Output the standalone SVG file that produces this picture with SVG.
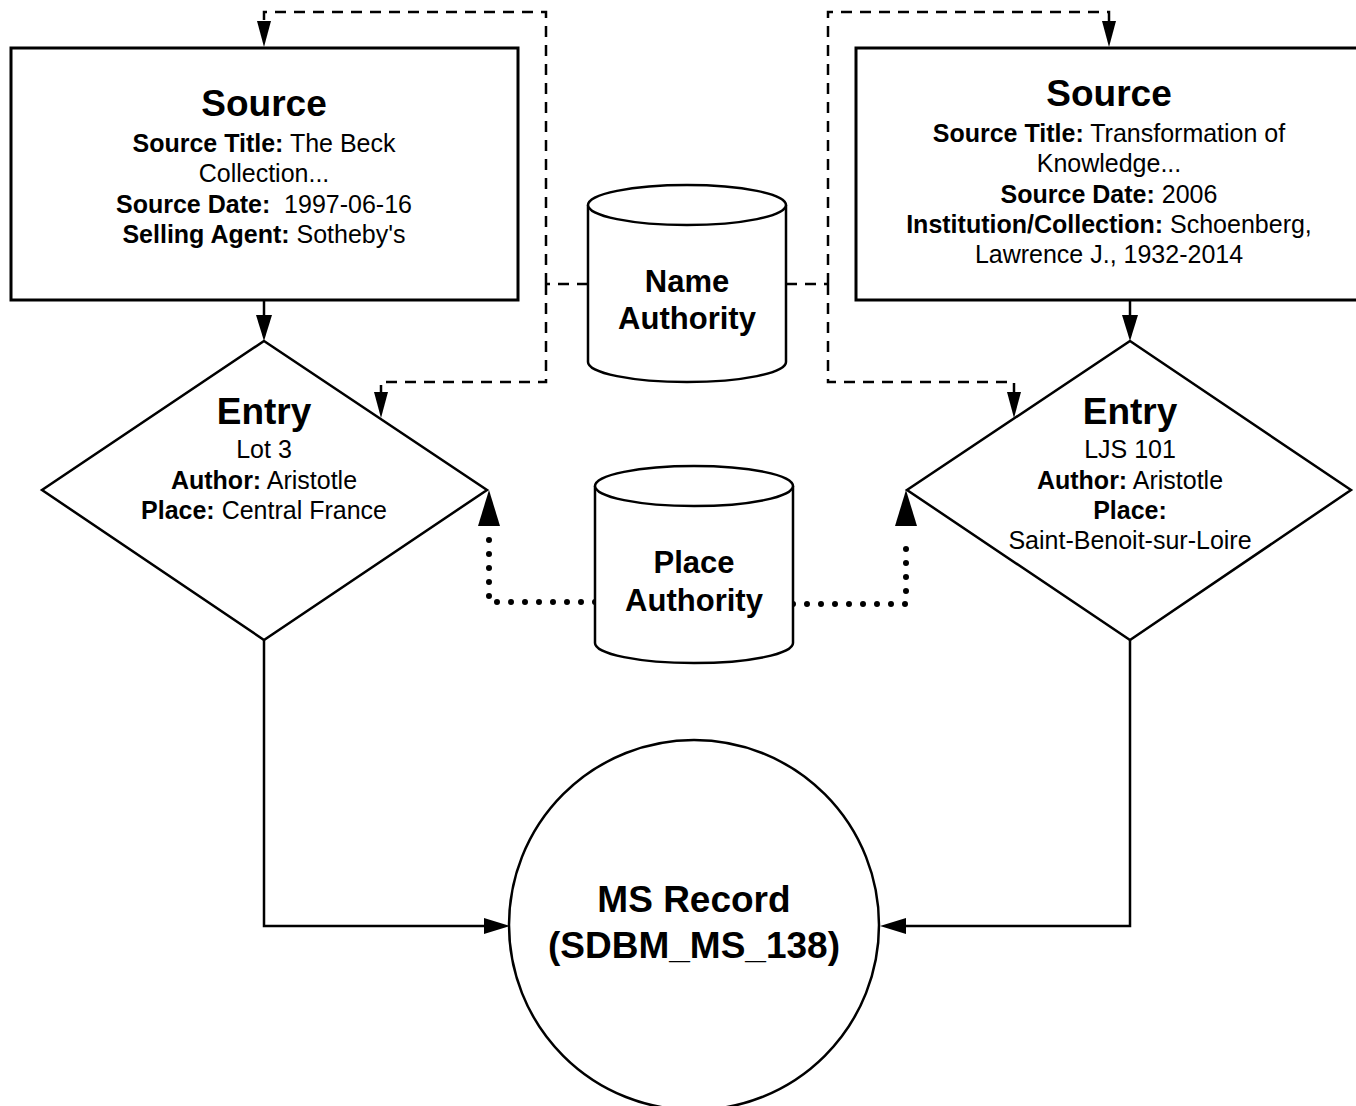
<svg xmlns="http://www.w3.org/2000/svg" width="1356" height="1106" viewBox="0 0 1356 1106">
<style>
  text { font-family: "Liberation Sans", Arial, sans-serif; fill: #000; text-anchor: middle; }
  .title { font-size: 37px; font-weight: bold; }
  .db { font-size: 31px; font-weight: bold; }
  .body { font-size: 25px; }
  .b { font-weight: bold; }
  .shape { fill: #fff; stroke: #000; stroke-width: 3; }
  .thin { fill: #fff; stroke: #000; stroke-width: 2.5; }
  .solid { fill: none; stroke: #000; stroke-width: 2.5; }
  .dash { fill: none; stroke: #000; stroke-width: 2.5; stroke-dasharray: 11 8; }
  .dot { fill: none; stroke: #000; stroke-width: 6; stroke-dasharray: 0 14; stroke-linecap: round; }
  .head { fill: #000; stroke: none; }
</style>
<defs>
  <marker id="arrS" viewBox="0 0 26 16" refX="0" refY="8" markerWidth="26" markerHeight="16" markerUnits="userSpaceOnUse" orient="auto">
    <path d="M0,0 L26,8 L0,16 Z" fill="#000"/>
  </marker>
  <marker id="arrD" viewBox="0 0 26 14" refX="0" refY="7" markerWidth="26" markerHeight="14" markerUnits="userSpaceOnUse" orient="auto">
    <path d="M0,0 L26,7 L0,14 Z" fill="#000"/>
  </marker>
</defs>
<rect width="1356" height="1106" fill="#fff"/>

<g id="connectors">
  <!-- Source -> Entry -->
  <path class="solid" d="M264,300 V315" marker-end="url(#arrS)"/>
  <path class="solid" d="M1130,300 V315" marker-end="url(#arrS)"/>
  <!-- Entry -> MS Record -->
  <path class="solid" d="M264,640 V926 H484" marker-end="url(#arrS)"/>
  <path class="solid" d="M1130,640 V926 H906" marker-end="url(#arrS)"/>
  <!-- Name Authority dashed links -->
  <path class="dash" d="M588,284 H546"/>
  <path class="dash" d="M546,284 V12 H264 V21" marker-end="url(#arrD)"/>
  <path class="dash" d="M546,284 V382 H381 V392" marker-end="url(#arrD)"/>
  <path class="dash" d="M786,284 H828"/>
  <path class="dash" d="M828,284 V12 H1109 V21" marker-end="url(#arrD)"/>
  <path class="dash" d="M828,284 V382 H1014 V392" marker-end="url(#arrD)"/>
  <!-- Place Authority dotted links -->
  <path class="dot" d="M595,602 H489 V537"/>
  <polygon class="head" points="489,490 478,526 500,526"/>
  <path class="dot" d="M793,604 H906 V537"/>
  <polygon class="head" points="906,490 895,526 917,526"/>
</g>

<g id="source-left">
  <rect class="shape" x="11" y="48" width="507" height="252"/>
  <text class="title" x="264" y="116">Source</text>
  <text class="body" x="264" y="152"><tspan class="b">Source Title:</tspan> The Beck</text>
  <text class="body" x="264" y="182">Collection...</text>
  <text class="body" x="264" y="213"><tspan class="b">Source Date:</tspan>&#160; 1997-06-16</text>
  <text class="body" x="264" y="243"><tspan class="b">Selling Agent:</tspan> Sotheby's</text>
</g>

<g id="source-right">
  <rect class="shape" x="856" y="48" width="507" height="252"/>
  <text class="title" x="1109" y="106">Source</text>
  <text class="body" x="1109" y="142"><tspan class="b">Source Title:</tspan> Transformation of</text>
  <text class="body" x="1109" y="172">Knowledge...</text>
  <text class="body" x="1109" y="203"><tspan class="b">Source Date:</tspan> 2006</text>
  <text class="body" x="1109" y="233"><tspan class="b">Institution/Collection:</tspan> Schoenberg,</text>
  <text class="body" x="1109" y="263">Lawrence J., 1932-2014</text>
</g>

<g id="entry-left">
  <polygon class="thin" points="264,341 487,490 264,640 42,490"/>
  <text class="title" x="264" y="424">Entry</text>
  <text class="body" x="264" y="458">Lot 3</text>
  <text class="body" x="264" y="489"><tspan class="b">Author:</tspan> Aristotle</text>
  <text class="body" x="264" y="519"><tspan class="b">Place:</tspan> Central France</text>
</g>

<g id="entry-right">
  <polygon class="thin" points="1130,341 1351,490 1130,640 907,490"/>
  <text class="title" x="1130" y="424">Entry</text>
  <text class="body" x="1130" y="458">LJS 101</text>
  <text class="body" x="1130" y="489"><tspan class="b">Author:</tspan> Aristotle</text>
  <text class="body" x="1130" y="519"><tspan class="b">Place:</tspan></text>
  <text class="body" x="1130" y="549">Saint-Benoit-sur-Loire</text>
</g>

<g id="name-authority">
  <path class="thin" d="M588,205 V362 A99,20 0 0 0 786,362 V205"/>
  <ellipse class="thin" cx="687" cy="205" rx="99" ry="20"/>
  <text class="db" x="687" y="292">Name</text>
  <text class="db" x="687" y="329">Authority</text>
</g>

<g id="place-authority">
  <path class="thin" d="M595,486 V643 A99,20 0 0 0 793,643 V486"/>
  <ellipse class="thin" cx="694" cy="486" rx="99" ry="20"/>
  <text class="db" x="694" y="573">Place</text>
  <text class="db" x="694" y="611">Authority</text>
</g>

<g id="ms-record">
  <circle class="thin" cx="694" cy="925" r="185"/>
  <text class="title" x="694" y="912">MS Record</text>
  <text class="title" x="694" y="958">(SDBM_MS_138)</text>
</g>
</svg>
